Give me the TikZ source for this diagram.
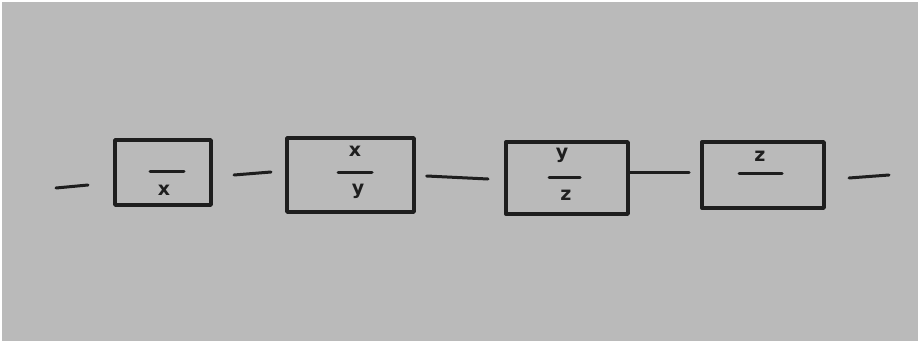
\documentclass[tikz,border=0pt]{standalone}
\usepackage{fontspec}
\setsansfont{DejaVu Sans}
\definecolor{paper}{RGB}{186,186,186}
\definecolor{ink}{RGB}{30,30,30}
\begin{document}
\begin{tikzpicture}[x=1pt,y=-1pt,
  pen/.style={draw=ink,line width=3.4pt,line cap=round,line join=round},
  thin/.style={draw=ink,line width=3pt,line cap=round},
  letter/.style={text=ink,font=\sffamily\bfseries\fontsize{19}{19}\selectfont,inner sep=0pt}]
\fill[white] (0,0) rectangle (920,343);
\fill[paper] (2,2) rectangle (918,341);
\useasboundingbox (0,0) rectangle (920,343);
% boxes
\node[pen,minimum width=96pt,minimum height=65pt,inner sep=0pt] (b1) at (163,172.5) {};
\node[pen,minimum width=127pt,minimum height=74pt,inner sep=0pt] (b2) at (350.5,175) {};
\node[pen,minimum width=122pt,minimum height=72pt,inner sep=0pt] (b3) at (567,178) {};
\node[pen,minimum width=122pt,minimum height=66pt,inner sep=0pt] (b4) at (763,175) {};
% contents
\node[letter] (t1) at (164,190) {x};
\coordinate (f1a) at (150,171); \coordinate (f1b) at (184,171);
\draw[thin] (f1a) -- (f1b);
\node[letter] (t2a) at (355,151) {x};
\coordinate (f2a) at (338,172); \coordinate (f2b) at (372,172);
\draw[thin] (f2a) -- (f2b);
\node[letter] (t2b) at (358,191) {y};
\node[letter] (t3a) at (562,155) {y};
\coordinate (f3a) at (549,177); \coordinate (f3b) at (580,177);
\draw[thin] (f3a) -- (f3b);
\node[letter] (t3b) at (566,195) {z};
\node[letter] (t4) at (760,156) {z};
\coordinate (f4a) at (739,173); \coordinate (f4b) at (782,173);
\draw[thin] (f4a) -- (f4b);
% connectors
\coordinate (c1a) at (56,188); \coordinate (c1b) at (88,185);
\draw[thin] (c1a) -- (c1b);
\coordinate (c2a) at (234,175); \coordinate (c2b) at (271,172);
\draw[thin] (c2a) -- (c2b);
\coordinate (c3a) at (b2.east|-0,176); \coordinate (c3b) at (488,179);
\draw[thin] ([xshift=11pt]c3a) -- (c3b);
\coordinate (c4a) at (b3.east|-0,172); \coordinate (c4b) at (689,172);
\draw[thin] (c4a) -- (c4b);
\coordinate (c5a) at (849,178); \coordinate (c5b) at (889,175);
\draw[thin] (c5a) -- (c5b);
\end{tikzpicture}
\end{document}
